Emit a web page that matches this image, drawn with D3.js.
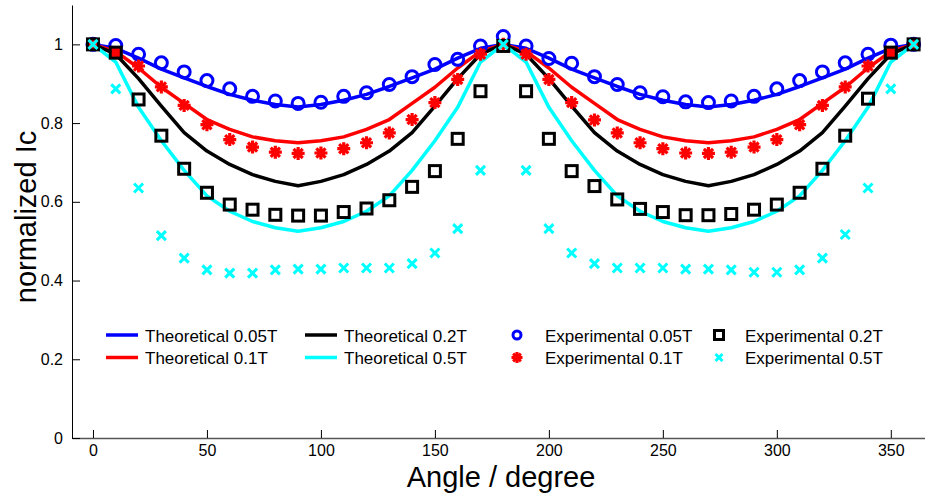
<!DOCTYPE html>
<html>
<head>
<meta charset="utf-8">
<script src="https://cdn.jsdelivr.net/npm/d3@7"></script>
<style>
  body { margin: 0; background: #fff; }
  svg { display: block; font-family: "Liberation Sans", Arial, sans-serif; }
</style>
</head>
<body>
<div class="graph-center"></div>
<script>
// data
let angles = [0, 10, 20, 30, 40, 50, 60, 70, 80, 90, 100, 110, 120, 130, 140, 150, 160, 170, 180,
  190, 200, 210, 220, 230, 240, 250, 260, 270, 280, 290, 300, 310, 320, 330, 340, 350, 360]

let theo005 = [1, .99, .965, .937, .915, .893, .873, .858, .847, .841, .847, .858, .873, .893, .915, .937, .965, .99, 1,
  .99, .965, .937, .915, .893, .873, .858, .847, .841, .847, .858, .873, .893, .915, .937, .965, .99, 1]
let theo01 = [1, .982, .94, .891, .85, .809, .784, .765, .755, .75, .755, .765, .784, .809, .85, .891, .94, .982, 1,
  .982, .94, .891, .85, .809, .784, .765, .755, .75, .755, .765, .784, .809, .85, .891, .94, .982, 1]
let theo02 = [1, .975, .913, .843, .776, .729, .695, .669, .652, .641, .652, .669, .695, .729, .776, .843, .913, .975, 1,
  .975, .913, .843, .776, .729, .695, .669, .652, .641, .652, .669, .695, .729, .776, .843, .913, .975, 1]
let theo05 = [1, .955, .84, .755, .68, .615, .576, .55, .534, .525, .534, .55, .576, .615, .68, .755, .84, .955, 1,
  .955, .84, .755, .68, .615, .576, .55, .534, .525, .534, .55, .576, .615, .68, .755, .84, .955, 1]

let exp005 = [1, .997, .975, .953, .930, .908, .887, .868, .856, .850, .853, .868, .877, .898, .918, .949, .962, .996, 1.02,
  .996, .964, .952, .918, .898, .877, .867, .854, .852, .856, .868, .887, .908, .930, .953, .975, .998, 1]
let exp01 = [1, .979, .945, .892, .845, .796, .758, .739, .726, .723, .724, .735, .750, .775, .809, .852, .911, .975, 1.0,
  .975, .911, .852, .808, .775, .750, .735, .724, .723, .726, .739, .758, .796, .845, .892, .945, .979, 1]
let exp02 = [1, .979, .860, .768, .684, .623, .593, .580, .567, .565, .565, .574, .583, .604, .638, .678, .760, .881, .996,
  .881, .760, .678, .640, .606, .582, .574, .566, .566, .569, .580, .593, .623, .684, .768, .862, .979, 1]
let exp05 = [1, .887, .635, .514, .457, .427, .419, .419, .427, .429, .429, .432, .432, .432, .443, .470, .532, .680, 1.0,
  .680, .532, .470, .443, .432, .432, .432, .429, .429, .427, .421, .421, .427, .457, .517, .635, .887, 1]

let xTicks = [0, 50, 100, 150, 200, 250, 300, 350]
let yTicks = [0, 0.2, 0.4, 0.6, 0.8, 1]

let theoNames = ['Theoretical 0.05T', 'Theoretical 0.1T', 'Theoretical 0.2T', 'Theoretical 0.5T']
let expNames = ['Experimental 0.05T', 'Experimental 0.1T', 'Experimental 0.2T', 'Experimental 0.5T']
let colors = ['#0000ff', '#ff0000', '#000000', '#00ffff']

let svgWidth = 925
let svgHeight = 495

let margin = { left: 72, right: 0, top: 5, bottom: 57 }
let height = svgHeight - margin.top - margin.bottom
let width = svgWidth - margin.left - margin.right

let svg = d3.select('.graph-center')
  .append('svg')
  .attr('width', svgWidth)
  .attr('height', svgHeight)
  .append('g')
  .attr('transform', `translate(${margin.left},${margin.top})`)

// scales
let xScale = d3.scaleLinear().domain([-9.2, 365]).range([0, width])
let yScale = d3.scaleLinear().domain([0, 1.1]).range([height, 0])

// axes, ticks inside like matlab
let xAxis = d3.axisBottom(xScale).tickValues(xTicks).tickSizeInner(-8).tickSizeOuter(0).tickPadding(7)
let yAxis = d3.axisLeft(yScale).tickValues(yTicks).tickSizeInner(-8).tickSizeOuter(0).tickPadding(9)
  .tickFormat(d => d3.format('')(d))

svg.append('g').attr('id', 'x-axis').attr('transform', `translate(0,${height})`).call(xAxis)
svg.append('g').attr('id', 'y-axis').call(yAxis)

svg.selectAll('.tick text').attr('font-size', 16).attr('fill', '#000')
svg.selectAll('.domain, .tick line').attr('stroke', '#000')
svg.select('#x-axis .domain').attr('stroke', '#555').attr('stroke-width', 1.5)

// theoretical lines
let theo = [theo005, theo01, theo02, theo05]
let line = d3.line()
  .x((d, i) => xScale(angles[i]))
  .y(d => yScale(d))

svg.selectAll('.theo')
  .data(theo)
  .join('path')
  .attr('class', 'theo')
  .attr('d', d => line(d))
  .attr('fill', 'none')
  .attr('stroke', (d, i) => colors[i])
  .attr('stroke-width', 3.5)
  .attr('stroke-linejoin', 'round')

// marker shapes
let starPath = 'M-6.5,0H6.5M0,-6.5V6.5M-4.6,-4.6L4.6,4.6M-4.6,4.6L4.6,-4.6'
let crossPath = 'M-4.5,-4.5L4.5,4.5M-4.5,4.5L4.5,-4.5'

svg.append('g').selectAll('circle').data(exp005).join('circle')
  .attr('cx', (d, i) => xScale(angles[i]))
  .attr('cy', d => yScale(d))
  .attr('r', 6)
  .attr('fill', 'none')
  .attr('stroke', colors[0])
  .attr('stroke-width', 3)

svg.append('g').selectAll('path').data(exp01).join('path')
  .attr('d', starPath)
  .attr('transform', (d, i) => `translate(${xScale(angles[i])},${yScale(d)})`)
  .attr('stroke', colors[1])
  .attr('stroke-width', 3.2)
  .attr('fill', 'none')

svg.append('g').selectAll('rect').data(exp02).join('rect')
  .attr('x', (d, i) => xScale(angles[i]) - 5.5)
  .attr('y', d => yScale(d) - 5.5)
  .attr('width', 11)
  .attr('height', 11)
  .attr('fill', 'none')
  .attr('stroke', colors[2])
  .attr('stroke-width', 3)

svg.append('g').selectAll('path').data(exp05).join('path')
  .attr('d', crossPath)
  .attr('transform', (d, i) => `translate(${xScale(angles[i])},${yScale(d)})`)
  .attr('stroke', colors[3])
  .attr('stroke-width', 3)
  .attr('fill', 'none')

// legend
let legend = d3.select('svg').append('g').attr('font-size', 17)
let rowY = [335, 357.5]

theoNames.forEach((name, i) => {
  let col = Math.floor(i / 2), row = i % 2
  let x0 = col === 0 ? 106 : 305
  legend.append('line')
    .attr('x1', x0).attr('x2', x0 + 32)
    .attr('y1', rowY[row]).attr('y2', rowY[row])
    .attr('stroke', colors[i]).attr('stroke-width', 3.5)
  legend.append('text')
    .attr('x', x0 + 39).attr('y', rowY[row] + 6.5)
    .text(name)
})

expNames.forEach((name, i) => {
  let col = Math.floor(i / 2), row = i % 2
  let cx = col === 0 ? 517 : 719
  let cy = rowY[row]
  if (i === 0) {
    legend.append('circle').attr('cx', cx).attr('cy', cy).attr('r', 4)
      .attr('fill', 'none').attr('stroke', colors[0]).attr('stroke-width', 3)
  } else if (i === 1) {
    legend.append('path').attr('d', 'M-5.5,0H5.5M0,-5.5V5.5M-3.9,-3.9L3.9,3.9M-3.9,3.9L3.9,-3.9')
      .attr('transform', `translate(${cx},${cy})`)
      .attr('stroke', colors[1]).attr('stroke-width', 3).attr('fill', 'none')
  } else if (i === 2) {
    legend.append('rect').attr('x', cx - 4.5).attr('y', cy - 4.5).attr('width', 9).attr('height', 9)
      .attr('fill', 'none').attr('stroke', colors[2]).attr('stroke-width', 3)
  } else {
    legend.append('path').attr('d', 'M-3.5,-3.5L3.5,3.5M-3.5,3.5L3.5,-3.5')
      .attr('transform', `translate(${cx},${cy})`)
      .attr('stroke', colors[3]).attr('stroke-width', 3).attr('fill', 'none')
  }
  legend.append('text')
    .attr('x', col === 0 ? 545 : 745).attr('y', cy + 6.5)
    .text(name)
})

// axis titles
d3.select('svg').append('text')
  .attr('x', 501).attr('y', 487)
  .attr('text-anchor', 'middle')
  .attr('font-size', 29)
  .text('Angle / degree')

d3.select('svg').append('text')
  .attr('transform', 'translate(36,217) rotate(-90)')
  .attr('text-anchor', 'middle')
  .attr('font-size', 29)
  .text('normalized Ic')
</script>
</body>
</html>
